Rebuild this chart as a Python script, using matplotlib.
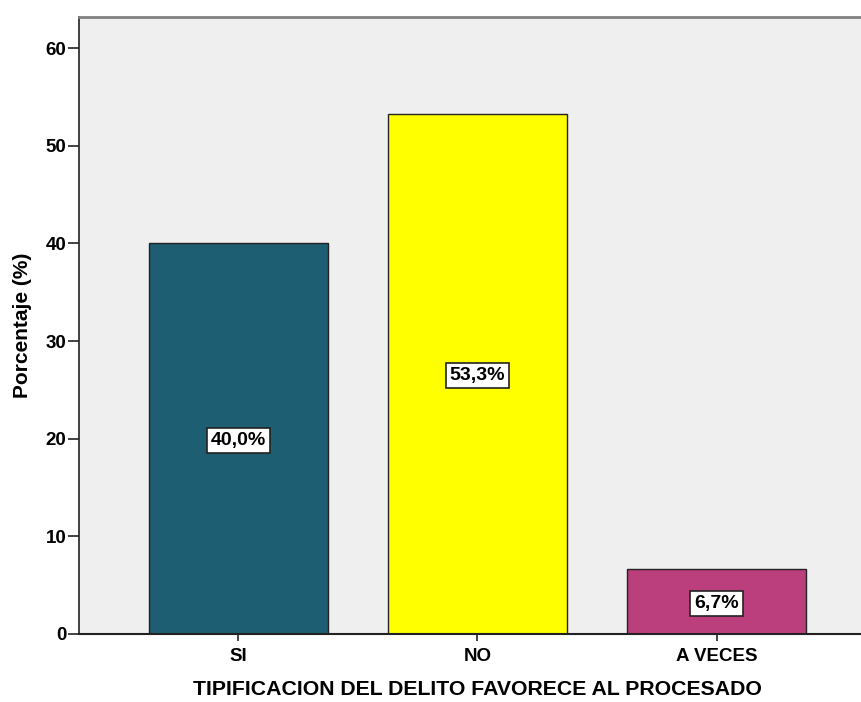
"""
Bar chart: tipificacion del delito favorece al procesado.
"""

import matplotlib
matplotlib.use("Agg")
import matplotlib.pyplot as plt

categorias = ["SI", "NO", "A VECES"]
porcentajes = [40.0, 53.3, 6.7]
etiquetas = ["40,0%", "53,3%", "6,7%"]
colores = ["#1e5e73", "#ffff00", "#bb3f7c"]

fig = plt.figure(figsize=(8.62, 7.02), dpi=100)
ax = fig.add_axes([79 / 862, 68 / 702, 797 / 862, 617 / 702])
ax.set_facecolor("#efefef")

x = range(len(categorias))
bars = ax.bar(x, porcentajes, width=0.75, color=colores,
              edgecolor="#222222", linewidth=1.0, zorder=2)

for i, b in enumerate(bars):
    h = b.get_height()
    ax.text(b.get_x() + b.get_width() / 2, h / 2 - 0.2, etiquetas[i],
            ha="center", va="center", fontsize=14, fontweight="bold",
            family=["Liberation Sans", "DejaVu Sans"], zorder=3,
            bbox=dict(boxstyle="square,pad=0.2", facecolor="white",
                      edgecolor="#222222", linewidth=1.2))

ax.set_xlim(-0.667, 2.667)
ax.set_ylim(0, 63.2)
ax.set_yticks([0, 10, 20, 30, 40, 50, 60])
ax.set_xticks(list(x))
ax.set_xticklabels(categorias)

for lab in ax.get_xticklabels() + ax.get_yticklabels():
    lab.set_fontweight("bold")
    lab.set_fontsize(13.5)
    lab.set_family(["Liberation Sans", "DejaVu Sans"])

ax.tick_params(axis="y", length=8, width=1.2, pad=1, color="#222222")
ax.tick_params(axis="x", length=5, width=1.2, pad=5, color="#222222")

ax.spines["left"].set_color("#222222")
ax.spines["left"].set_linewidth(1.2)
ax.spines["bottom"].set_color("#222222")
ax.spines["bottom"].set_linewidth(1.5)
ax.spines["top"].set_color("#808080")
ax.spines["top"].set_linewidth(2)
ax.spines["right"].set_visible(False)

ax.set_ylabel("Porcentaje (%)", fontsize=15, fontweight="bold",
              family=["Liberation Sans", "DejaVu Sans"], labelpad=10)
ax.set_xlabel("TIPIFICACION DEL DELITO FAVORECE AL PROCESADO", fontsize=15.3,
              fontweight="bold", family=["Liberation Sans", "DejaVu Sans"],
              labelpad=11)

fig.savefig("out.png", dpi=100)
